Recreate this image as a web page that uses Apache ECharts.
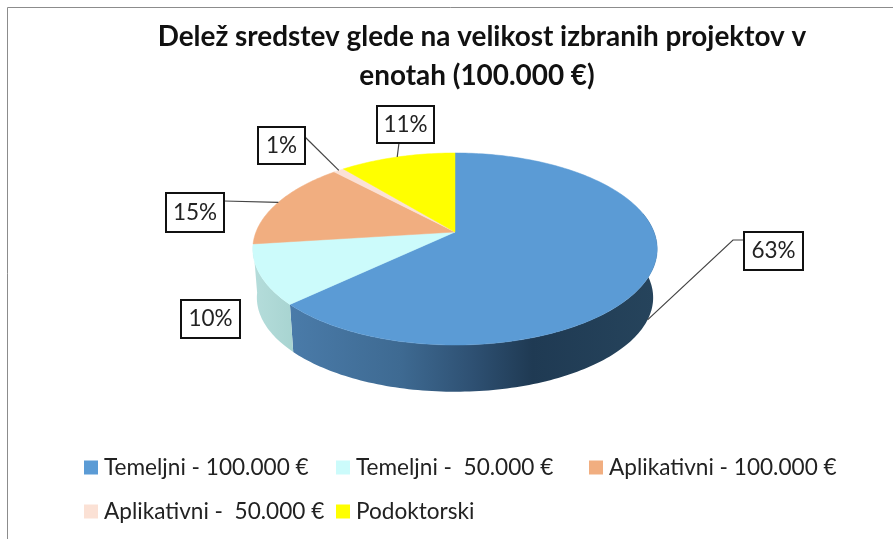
<!DOCTYPE html>
<html><head><meta charset="utf-8">
<style>html,body{margin:0;padding:0;background:#fff}#c{width:893px;height:539px}</style>
<script src="https://cdn.jsdelivr.net/npm/echarts@6/dist/echarts.min.js"></script>
</head><body><div id="c"></div>
<script>
const titleLines = ['Delež sredstev glede na velikost izbranih projektov v', 'enotah (100.000 €)'];
const categories = ['Temeljni - 100.000 €', 'Temeljni -  50.000 €', 'Aplikativni - 100.000 €', 'Aplikativni -  50.000 €', 'Podoktorski'];
const shares = [63, 10, 15, 1, 11];
const colors = ['#5B9BD5', '#CCFBFB', '#F1AE80', '#FBE1D5', '#FFFF00'];
const FONT = 'Lato, "Open Sans", sans-serif';

// Perspective projection of the pie disc
const G = {cx: 455, top: 232, bottom: 281, rx: 199, ry: 93, k: 0.177, shrink: 0.98};
function proj(t, lower) {
  const u = Math.sin(t), v = -Math.cos(t), s = 1 / (1 - G.k * v), f = lower ? G.shrink : 1;
  return [G.cx + G.rx * u * s * f, (lower ? G.bottom : G.top) + G.ry * v * s * f];
}
function arc(a, b, lower) {
  const n = Math.max(2, Math.ceil(Math.abs(b - a) / 0.02)), out = [];
  for (let i = 0; i <= n; i++) out.push(proj(a + (b - a) * i / n, lower));
  return out;
}
const total = shares.reduce((a, b) => a + b, 0);
const bounds = [0];
shares.forEach(v => bounds.push(bounds[bounds.length - 1] + v / total * Math.PI * 2));

const wallFills = [
  {type: 'linear', x: 0, y: 0, x2: 1, y2: 0, colorStops: [
    {offset: 0, color: '#4A7BA9'}, {offset: 0.3, color: '#3E6A92'}, {offset: 0.5, color: '#2E5072'}, {offset: 0.66, color: '#1F3A53'}, {offset: 1, color: '#26445C'}]},
  {type: 'linear', x: 0, y: 0, x2: 1, y2: 0, colorStops: [
    {offset: 0, color: '#B5DDDB'}, {offset: 1, color: '#A8D4D1'}]}
];
const wallStart = [78 * Math.PI / 180, null];

// Callout placement: box rectangle and leader route, per slice
const callouts = [
  {box: [744, 232, 59, 38], leader: [[733, 240], [744, 240]], onWall: true},
  {box: [181, 300, 59, 38], leader: null},
  {box: [166, 193, 58, 39], leader: [[224, 201]]},
  {box: [258, 127, 47, 37], leader: [[305, 137]]},
  {box: [377, 106, 57, 37], leader: [[399, 143]]}
];

function renderSlice(params, api) {
  const i = params.seriesIndex, a = bounds[i], b = bounds[i + 1], kids = [];
  if (wallFills[i]) {
    const from = wallStart[i] === null ? a : wallStart[i];
    const pts = arc(from, b, false).concat(arc(b, from, true));
    kids.push({type: 'polygon', shape: {points: pts}, style: {fill: wallFills[i]}});
  }
  const top = [[G.cx, G.top]].concat(arc(a, b, false));
  kids.push({type: 'polygon', shape: {points: top}, style: {fill: colors[i], stroke: colors[i], lineWidth: 0.5}});
  const c = callouts[i];
  if (c.leader) {
    const anchor = proj((a + b) / 2, !!c.onWall);
    const line = [anchor].concat(c.leader);
    kids.push({type: 'polyline', shape: {points: line}, style: {fill: null, stroke: '#444', lineWidth: 1.2}});
  }
  const [x, y, w, h] = c.box;
  kids.push({type: 'rect', shape: {x: x, y: y, width: w, height: h}, style: {fill: '#fff', stroke: '#111', lineWidth: 2}});
  kids.push({type: 'text', x: x + w / 2, y: y + h / 2, style: {
    text: Math.round(api.value(0) / total * 100) + '%', fill: '#222', font: '22.5px ' + FONT, align: 'center', verticalAlign: 'middle'}});
  return {type: 'group', children: kids};
}

const legendSpots = [[79, 451], [331, 451], [584, 451], [79, 495], [331, 495]];

const chart = echarts.init(document.getElementById('c'), null, {renderer: 'canvas'});
chart.setOption({
  backgroundColor: '#fff',
  animation: false,
  title: [
    {text: titleLines[0], left: 477, top: 18, textAlign: 'center', textStyle: {fontFamily: FONT, fontSize: 27.9, fontWeight: 'bold', color: '#111'}},
    {text: titleLines[1], left: 472, top: 57, textAlign: 'center', textStyle: {fontFamily: FONT, fontSize: 27.9, fontWeight: 'bold', color: '#111'}}
  ],
  legend: categories.map((name, i) => ({
    data: [name], left: legendSpots[i][0], top: legendSpots[i][1], orient: 'horizontal', selectedMode: false,
    icon: 'rect', itemWidth: 14, itemHeight: 14, itemGap: 0,
    textStyle: {fontFamily: FONT, fontSize: 22.6, color: '#222', padding: [0, 0, 0, 1]}
  })),
  series: categories.map((name, i) => ({
    type: 'custom', name: name, coordinateSystem: 'none', silent: true,
    itemStyle: {color: colors[i]},
    data: [[shares[i]]],
    renderItem: renderSlice
  })),
  graphic: [
    {type: 'polyline', shape: {points: [[7.5, 539], [7.5, 7.5], [893, 7.5]]}, style: {fill: null, stroke: '#8c8c8c', lineWidth: 1}, silent: true}
  ]
});
</script></body></html>
